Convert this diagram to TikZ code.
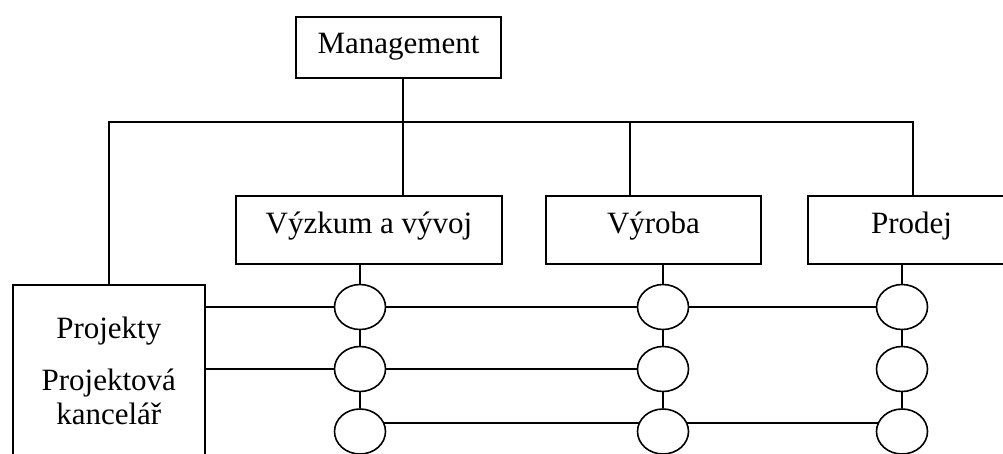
\documentclass[tikz,border=0pt]{standalone}
\usepackage{fontspec}
\setmainfont{Liberation Serif}
\usetikzlibrary{calc,positioning,shapes.geometric}
\tikzset{org/.cd,
         unit/.style={draw,rectangle,inner sep=0pt,minimum width=215pt,
                      font=\fontsize{31}{34}\selectfont,text height=37pt,text depth=31pt},
         head/.style={org/unit,minimum width=205pt,text height=36pt,text depth=25pt},
         office/.style={draw,rectangle,inner sep=0pt,minimum width=192pt,minimum height=200pt},
         note/.style={inner sep=0pt,align=center,font=\fontsize{31}{34}\selectfont},
         junction/.style={draw,ellipse,inner sep=0pt,minimum width=51pt,minimum height=45pt}}

\begin{document}
\begin{tikzpicture}[x=1pt,y=-1pt,line width=1.6pt]
\clip (0,0) rectangle (1003,453);
\node[org/head] (mgmt) at (398.5,47.5) {Management};
\node[org/unit,minimum width=266pt] (vyzkum) at (369,230) {Výzkum a vývoj};
\node[org/unit] (vyroba) at (653.5,230) {Výroba};
\node[org/unit,minimum width=207pt] (prodej) at (911.5,230) {Prodej};
\node[org/office,anchor=north west] (proj) at (12,284) {};
\node[org/note,below=32pt of proj.north] (projtext) {Projekty\\[18pt]Projektová\\kancelář};
\coordinate (busL) at (109,122);
\coordinate (busV) at (630,122);
\coordinate (busR) at (913,122);
\coordinate (mgmtS) at ($(mgmt.south)+(4.5,0)$);
\draw (proj.north -| busL) -- (busL) -- (busR) -- (busR |- prodej.north);
\draw (mgmtS) -- (mgmtS |- vyzkum.north);
\draw (busV) -- (busV |- vyroba.north);
\foreach \col/\x in {1/360,2/663,3/902}
  \foreach \row/\y in {1/307,2/369,3/431.5}
    \node[org/junction] (c\row\col) at (\x,\y) {};
\foreach \col/\unit in {1/vyzkum,2/vyroba,3/prodej} {
  \draw (c1\col.north |- \unit.south) -- (c1\col.north);
  \draw (c1\col) -- (c2\col);
  \draw (c2\col) -- (c3\col);
}
\draw (proj.east |- c11.west) -- (c11.west);
\draw (c11) -- (c12);
\draw (c12) -- (c13);
\draw (proj.east |- c21.west) -- (c21.west);
\draw (c21) -- (c22);
\draw ([xshift=23.6pt,yshift=8.5pt]c31.center) -- ([xshift=-23.6pt,yshift=8.5pt]c32.center);
\draw ([xshift=23.6pt,yshift=8.5pt]c32.center) -- ([xshift=-23.6pt,yshift=8.5pt]c33.center);
\end{tikzpicture}
\end{document}
